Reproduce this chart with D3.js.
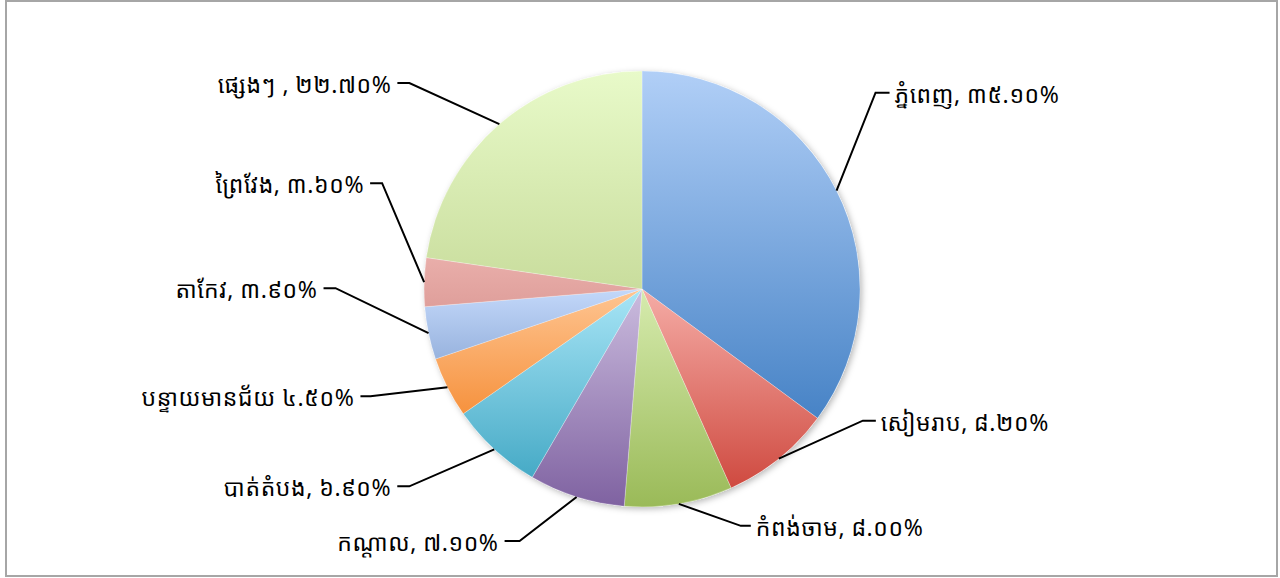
<!DOCTYPE html>
<html>
<head>
<meta charset="utf-8">
<script src="https://cdn.jsdelivr.net/npm/d3@7"></script>
<style>
html,body{margin:0;padding:0;background:#fff;}
svg{display:block;}
text{font-family:"Khmer OS","Khmer OS System","Noto Sans Khmer","DejaVu Sans","Noto Sans",sans-serif;}
</style>
</head>
<body>
<svg id="chart" width="1280" height="578"></svg>
<script>
// ---- data ----
const provinces = ["ភ្នំពេញ","សៀមរាប","កំពង់ចាម","កណ្តាល","បាត់តំបង","បន្ទាយមានជ័យ","តាកែវ","ព្រៃវែង","ផ្សេងៗ "];
const shares = [35.1, 8.2, 8.0, 7.1, 6.9, 4.5, 3.9, 3.6, 22.7];
const shareLabels = ["៣៥.១០%","៨.២០%","៨.០០%","៧.១០%","៦.៩០%","៤.៥០%","៣.៩០%","៣.៦០%","២២.៧០%"];
const separators = [", ",", ",", ",", ",", "," ",", ",", ",", "];
// gradient colours (top, bottom) per slice
const topColors = ["#b1cff7","#f5aca6","#d6ebae","#cbbcde","#a8e5f6","#fec592","#c3d8fa","#e9aeaa","#e8fac9"];
const bottomColors = ["#4783c6","#cf4a40","#9aba58","#7f62a1","#46aac6","#f6923e","#98b3de","#df9f9b","#c9dd9d"];
// leader elbow offsets relative to arc edge point (layout)
const elbowDX = [39, 84, 62, -57, -85, -77, -93, -42, -90];
const elbowDY = [-98, -38, 22, 44, 37, 9, -45, -99, -41];
const armLen = [14, 13, 10, -15, -12, -10, -12, -12, -12];

const W = 1280, H = 578;
const cx = 642, cy = 289, R = 218;

const svg = d3.select("#chart");
const defs = svg.append("defs");

// frame
svg.append("rect").attr("x",6).attr("y",1).attr("width",1271).attr("height",575)
  .attr("fill","#fff").attr("stroke","#a6a6a6").attr("stroke-width",2);

const f = defs.append("filter").attr("id","shadow").attr("x","-20%").attr("y","-20%").attr("width","140%").attr("height","140%");
f.append("feDropShadow").attr("dx",2).attr("dy",2).attr("stdDeviation",3).attr("flood-color","#000").attr("flood-opacity",0.28);

provinces.forEach((p,i)=>{
  const g = defs.append("linearGradient").attr("id","g"+i)
    .attr("x1",0).attr("y1",0).attr("x2",0).attr("y2",1);
  g.append("stop").attr("offset","0%").attr("stop-color",topColors[i]);
  g.append("stop").attr("offset","100%").attr("stop-color",bottomColors[i]);
});

const pie = d3.pie().sort(null).value(d=>d.v);
const data = pie(shares.map((v,i)=>({v,i})));
const arc = d3.arc().innerRadius(0).outerRadius(R);

const gPie = svg.append("g").attr("transform",`translate(${cx},${cy})`);
gPie.append("circle").attr("r",R).attr("fill","#fff").attr("filter","url(#shadow)");
gPie.selectAll("path").data(data).join("path")
  .attr("d",arc)
  .attr("fill",d=>`url(#g${d.data.i})`)
  .attr("stroke","rgba(255,255,255,0.5)").attr("stroke-width",0.5);

// labels
const gLab = svg.append("g");
data.forEach(d=>{
  const i = d.data.i;
  const a = (d.startAngle + d.endAngle)/2;
  const x0 = cx + R*Math.sin(a), y0 = cy - R*Math.cos(a);
  const x1 = x0 + elbowDX[i], y1 = y0 + elbowDY[i];
  const x2 = x1 + armLen[i];
  gLab.append("polyline")
    .attr("points",`${x0},${y0} ${x1},${y1} ${x2},${y1}`)
    .attr("fill","none").attr("stroke","#000").attr("stroke-width",2);
  const right = armLen[i] > 0;
  gLab.append("text")
    .attr("x", right ? x2 + 5 : x2 - 6)
    .attr("y", y1 + 10)
    .attr("text-anchor", right ? "start" : "end")
    .attr("font-size",23).attr("fill","#000")
    .attr("letter-spacing",0.6)
    .text(provinces[i] + separators[i] + shareLabels[i]);
});
</script>
</body>
</html>
